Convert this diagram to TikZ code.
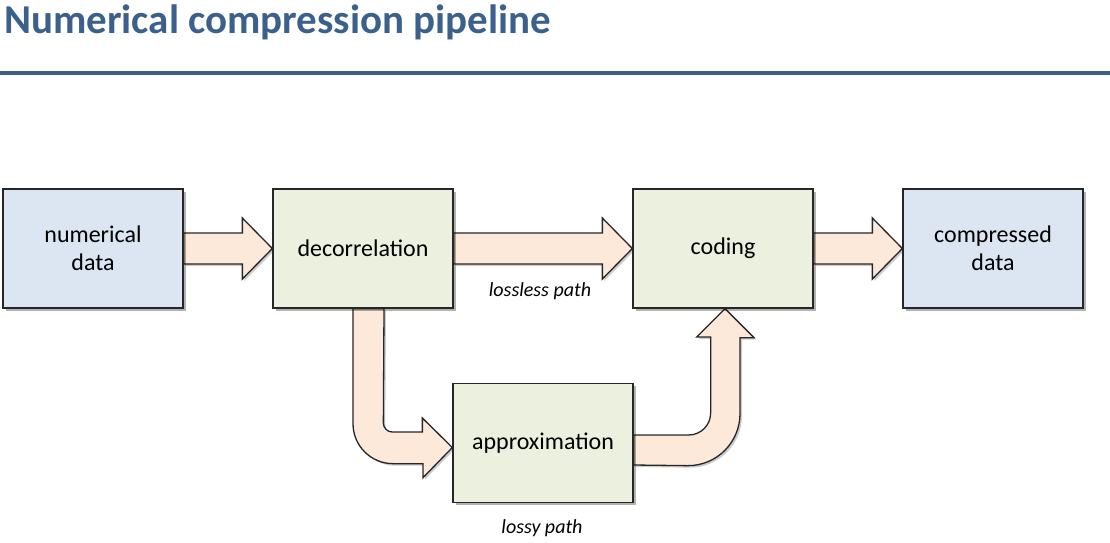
\documentclass[tikz,border=0pt]{standalone}
\usepackage{fontspec}
\setmainfont{Carlito}
\usetikzlibrary{calc,shadows}
\definecolor{titleblue}{RGB}{59,96,140}
\definecolor{boxblue}{RGB}{220,230,242}
\definecolor{boxgreen}{RGB}{235,241,222}
\definecolor{peach}{RGB}{253,233,217}
\pgfdeclarelayer{background}
\pgfsetlayers{background,main}
\tikzset{
  shad/.style={drop shadow={shadow xshift=2.5pt,shadow yshift=-2.5pt,opacity=0.3,fill=black}},
  box/.style={draw=black!85,line width=1.3pt,minimum width=180pt,minimum height=119pt,
    inner sep=0pt,align=center,font=\fontsize{24}{28}\selectfont,shad},
  bluebox/.style={box,fill=boxblue},
  greenbox/.style={box,fill=boxgreen},
  blk/.style={draw=black!85,line width=1.3pt,fill=peach,line join=miter,
    drop shadow={shadow xshift=2pt,shadow yshift=-2pt,opacity=0.2,fill=black}},
  lbl/.style={font=\fontsize{20}{22}\selectfont\itshape,inner sep=0pt}
}
\newcommand\harrow[2]{%
  \path[blk] ($(#1.east)+(0,-15.5)$) -- ($(#2.west)+(-30,-15.5)$) -- ($(#2.west)+(-30,-30.5)$)
    -- (#2.west) -- ($(#2.west)+(-30,30.5)$) -- ($(#2.west)+(-30,15.5)$) -- ($(#1.east)+(0,15.5)$) -- cycle;}
\begin{document}
\begin{tikzpicture}[x=1pt,y=-1pt]
\useasboundingbox (0,0) rectangle (1110,542);
% title
\node[anchor=base west,inner sep=0pt,text=titleblue,font=\fontsize{41}{44}\selectfont\bfseries] (title) at (4,33) {Numerical compression pipeline};
\fill[titleblue] (0,71) rectangle (1110,75);
% boxes
\node[bluebox] (num) at (93,248.5) {numerical\\data};
\node[greenbox] (dec) at (363,248.5) {decorrelation};
\node[greenbox] (cod) at (723,248.5) {coding};
\node[bluebox] (comp) at (993,248.5) {compressed\\data};
\node[greenbox] (appr) at (543,443) {approximation};
% labels
\node[lbl,anchor=base] (ll) at (540,296) {lossless path};
\node[lbl,anchor=base] (ly) at (542,533) {lossy path};
% arrows
\begin{pgfonlayer}{background}
\harrow{num}{dec}
\harrow{dec}{cod}
\harrow{cod}{comp}
\path[blk] ($(dec.south)+(-10,0)$) -- ++(0,115) arc[start angle=180,end angle=90,radius=40]
  -- ++(30,0) -- ++(0,14) -- ($(appr.west)+(0,4.5)$) -- ++(-30,-29.5) -- ++(0,14) -- ++(-30,0)
  arc[start angle=90,end angle=180,radius=9] -- ($(dec.south)+(21,0)$) -- cycle;
\path[blk] ($(appr.east)+(0,-8)$) -- ++(55,0) arc[start angle=90,end angle=0,radius=22]
  -- ++(0,-76) -- ++(-14,0) -- ($(cod.south)+(2,0)$) -- ++(29,29) -- ++(-14,0) -- ++(0,76)
  arc[start angle=0,end angle=90,radius=52] -- ($(appr.east)+(0,22)$) -- cycle;
\end{pgfonlayer}
\end{tikzpicture}
\end{document}
